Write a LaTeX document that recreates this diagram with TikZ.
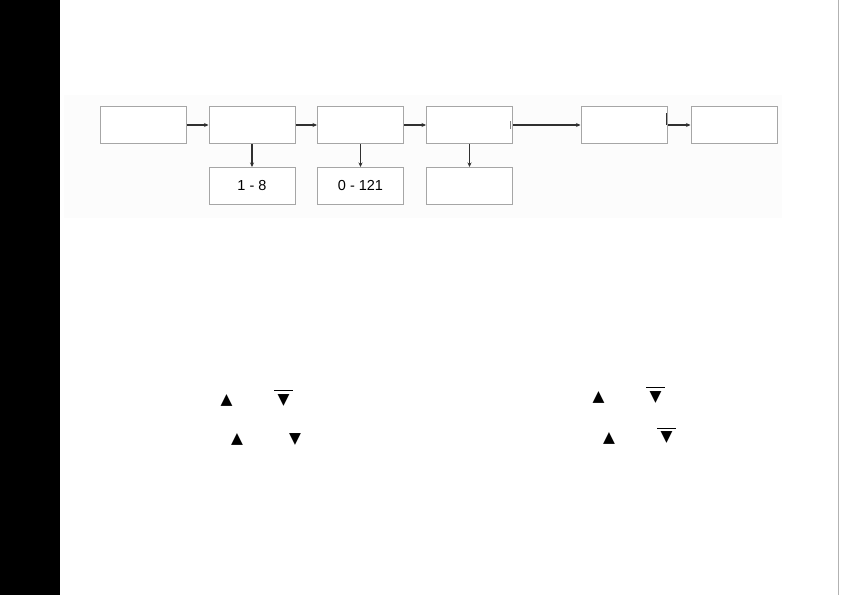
\documentclass[tikz,border=0pt]{standalone}
\usepackage{fontspec}
\setmainfont{Liberation Sans}
\newfontfamily\symfont{DejaVu Sans}
\usepackage{tikz}
\usetikzlibrary{arrows.meta, positioning, calc}
\definecolor{BoxGray}{HTML}{A6A6A6}
\definecolor{ArrowGray}{HTML}{303030}
\definecolor{PanelGray}{HTML}{FCFCFC}
\tikzset{
    % boxes of the chain
    stepbox/.style={
        rectangle,
        draw=BoxGray,
        fill=white,
        line width=1pt,
        minimum width=86pt,
        minimum height=37pt,
        inner sep=0pt,
        text centered,
        font=\fontsize{14.5}{14.5}\selectfont
    },
    % arrows
    myarrow/.style={
        -{Stealth[length=4.5pt,width=4pt]},
        line width=1.3pt,
        ArrowGray
    },
    % key symbols
    keysym/.style={
        inner sep=0pt,
        font=\symfont\fontsize{15.5}{15.5}\selectfont
    },
    keybar/.style={
        line width=1pt,
        black
    }
}
\begin{document}
\begin{tikzpicture}[x=1pt,y=-1pt]
    \useasboundingbox (0,0) rectangle (841,595);
    % frame
    \fill[black] (0,0) rectangle (60,595);
    \draw[gray!60,line width=0.8pt] (838,0) -- (838,595);
    \fill[PanelGray] (64,95) rectangle (782,218);

    % chain
    \node[stepbox] (b1) at (143,125) {};
    \node[stepbox] (b2) at (252,125) {};
    \node[stepbox] (b3) at (360.5,125) {};
    \node[stepbox] (b4) at (469.5,125) {};
    \node[stepbox] (b5) at (624,125) {};
    \node[stepbox] (b6) at (734,125) {};

    \node[stepbox] (r2) at (252,186) {1 - 8};
    \node[stepbox] (r3) at (360.5,186) {0 - 121};
    \node[stepbox] (r4) at (469.5,186) {};

    \draw[myarrow] (b1) -- (b2);
    \draw[myarrow] (b2) -- (b3);
    \draw[myarrow] (b3) -- (b4);
    \draw[myarrow] (b4.east) -- (b5.west);
    \draw[myarrow] (b5) -- (b6);

    \draw[myarrow] (b2) -- (r2);
    \draw[myarrow] (b3) -- (r3);
    \draw[myarrow] (b4) -- (r4);

    % marks on the edges
    \draw[gray,line width=0.6pt] (510.5,121) -- (510.5,129);
    \draw[ArrowGray,line width=1.5pt] (666.5,113) -- (666.5,125);

    % keys, left
    \node[keysym] (up1) at (226.5,400) {▲};
    \node[keysym] (dn1) at (283.5,400) {▼};
    \draw[keybar] ($(dn1.north west)+(-3,-3)$) -- ($(dn1.north east)+(3,-3)$);
    \node[keysym] (up2) at (237,439) {▲};
    \node[keysym] (dn2) at (295,439) {▼};

    % keys, right
    \node[keysym] (up3) at (598.5,397) {▲};
    \node[keysym] (dn3) at (655.5,397) {▼};
    \draw[keybar] ($(dn3.north west)+(-3,-3)$) -- ($(dn3.north east)+(3,-3)$);
    \node[keysym] (up4) at (609,438) {▲};
    \node[keysym] (dn4) at (666.5,437.5) {▼};
    \draw[keybar] ($(dn4.north west)+(-3,-3)$) -- ($(dn4.north east)+(3,-3)$);
\end{tikzpicture}
\end{document}
